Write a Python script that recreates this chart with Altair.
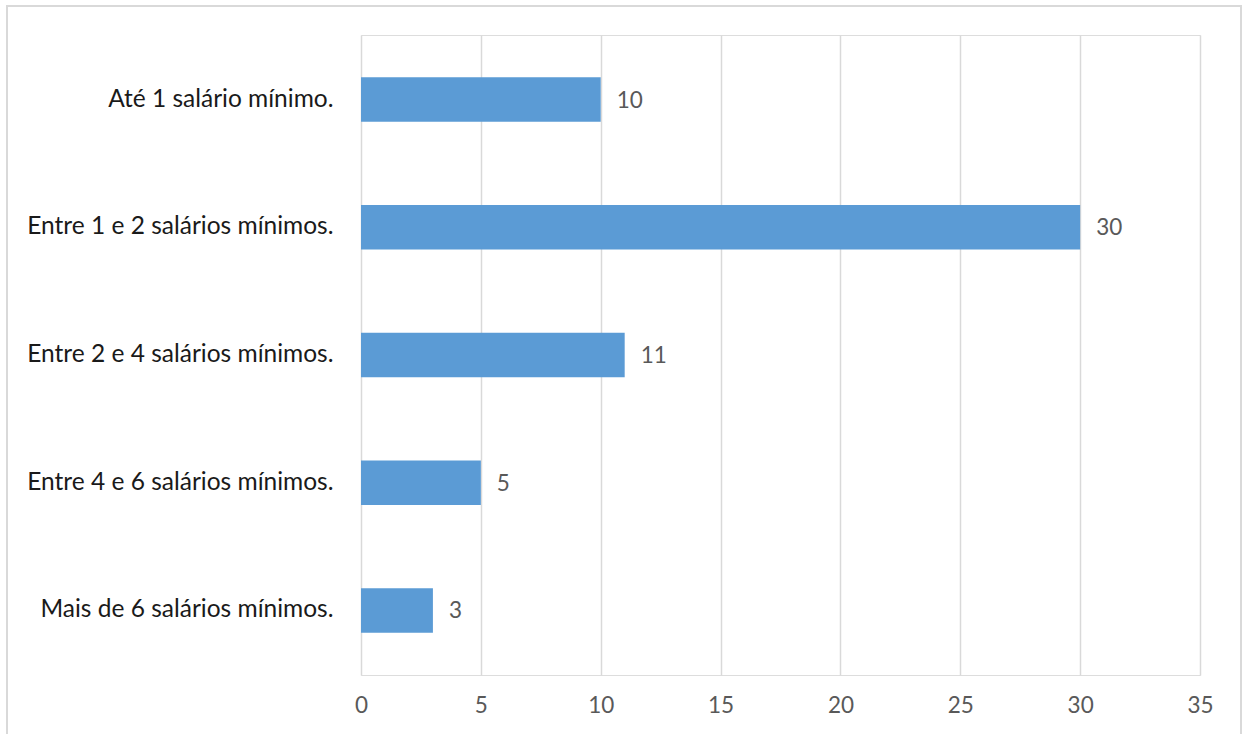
import altair as alt
import pandas as pd

categories = [
    "Até 1 salário mínimo.",
    "Entre 1 e 2 salários mínimos.",
    "Entre 2 e 4 salários mínimos.",
    "Entre 4 e 6 salários mínimos.",
    "Mais de 6 salários mínimos.",
]
values = [10, 30, 11, 5, 3]
x_ticks = [0, 5, 10, 15, 20, 25, 30, 35]

df = pd.DataFrame({"cat": categories, "val": values})

FONT = "Lato"

y_enc = alt.Y("cat:N", sort=categories, title=None,
              scale=alt.Scale(paddingInner=0.65, paddingOuter=0.33),
              axis=alt.Axis(domain=False, ticks=False, grid=False,
                            labelFontSize=24.5, labelColor="#1a1a1a", labelFont=FONT,
                            labelPadding=28, labelLimit=400))
x_enc = alt.X("val:Q", title=None,
              scale=alt.Scale(domain=[0, 35], nice=False),
              axis=alt.Axis(values=x_ticks, domain=False, ticks=False, grid=True,
                            gridColor="#d9d9d9", gridWidth=1.5,
                            labelFontSize=22.5, labelColor="#595959", labelFont=FONT,
                            labelPadding=19, labelFlush=False))

bars = alt.Chart(df).mark_bar(color="#5B9BD5").encode(x=x_enc, y=y_enc)
labels = alt.Chart(df).mark_text(align="left", baseline="middle", dx=16, dy=1,
                                 fontSize=22.5, color="#595959", font=FONT).encode(
    x="val:Q", y=alt.Y("cat:N", sort=categories), text="val:Q")

border = alt.Chart(df).mark_rect(fill=None, stroke="#d9d9d9", strokeWidth=2).encode(
    x=alt.value(-354), x2=alt.value(880), y=alt.value(-29), y2=alt.value(760))

chart = alt.layer(bars, labels, border).properties(
    width=839, height=640,
    autosize=alt.AutoSizeParams(type="none"),
    padding={"left": 361, "top": 35, "right": 45, "bottom": 59},
).configure_view(stroke=None).configure(background="white")

chart.save("out.html", embed_options={"renderer": "svg", "actions": False})
